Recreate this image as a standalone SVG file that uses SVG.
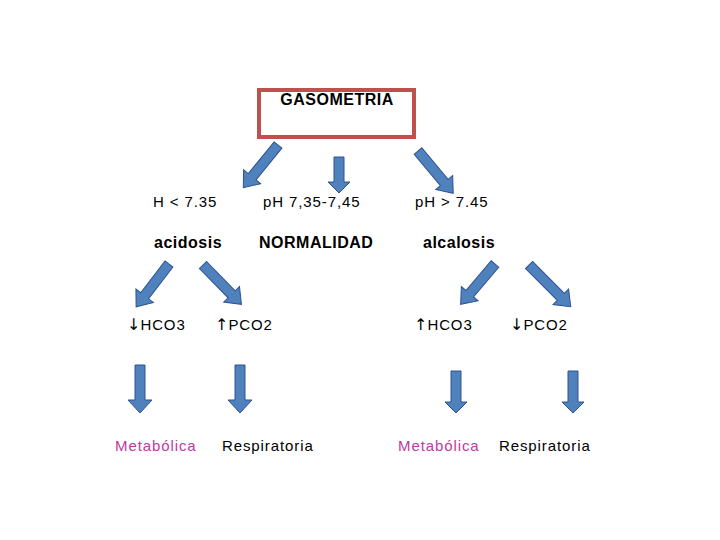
<svg xmlns="http://www.w3.org/2000/svg" width="720" height="540" viewBox="0 0 720 540">
<style>
.ar{fill:#4F81BD;stroke:#2F528F;stroke-width:1}
.t{font-family:"Liberation Sans",Arial,sans-serif;font-size:15px;fill:#000;letter-spacing:0.9px}
.b{font-weight:bold;font-size:16px;letter-spacing:0.5px}
.m{fill:#C0399F}
.g{font-family:"DejaVu Sans",sans-serif;font-size:16px;letter-spacing:0}
</style>
<rect width="720" height="540" fill="#fff"/>
<g id="gasometria">
<rect x="259" y="90" width="155" height="47" fill="none" stroke="#C0504D" stroke-width="4"/>
<text class="t b" x="337" y="105" text-anchor="middle">GASOMETRIA</text>
</g>
<g id="connectors">
<polygon class="ar" transform="translate(278,145) rotate(129.1)" points="0,-5 41,-5 41,-11 55,0 41,11 41,5 0,5"/>
<polygon class="ar" points="334,157 344,157 344,182 350,182 339,193 328,182 334,182"/>
<polygon class="ar" transform="translate(418,151) rotate(50.2)" points="0,-5 41,-5 41,-11 55,0 41,11 41,5 0,5"/>
<polygon class="ar" transform="translate(169,264) rotate(127.5)" points="0,-5 40,-5 40,-11 54,0 40,11 40,5 0,5"/>
<polygon class="ar" transform="translate(203,265) rotate(45.7)" points="0,-5 41,-5 41,-11 55,0 41,11 41,5 0,5"/>
<polygon class="ar" transform="translate(495,264) rotate(130.4)" points="0,-5 39,-5 39,-11 53,0 39,11 39,5 0,5"/>
<polygon class="ar" transform="translate(529,265) rotate(45)" points="0,-5 45,-5 45,-11 59,0 45,11 45,5 0,5"/>
<polygon class="ar" points="135,365 145,365 145,400 152,400 140,413 128,400 135,400"/>
<polygon class="ar" points="235,365 245,365 245,400 252,400 240,413 228,400 235,400"/>
<polygon class="ar" points="451,371 461,371 461,402 467,402 456,413 445,402 451,402"/>
<polygon class="ar" points="568,371 578,371 578,402 584,402 573,413 562,402 568,402"/>
</g>
<g id="ph-acid"><text class="t" x="153" y="207">H &lt; 7.35</text></g>
<g id="ph-normal"><text class="t" x="263" y="207">pH 7,35-7,45</text></g>
<g id="ph-alc"><text class="t" x="415" y="207">pH &gt; 7.45</text></g>
<g id="acidosis"><text class="t b" x="154" y="248">acidosis</text></g>
<g id="normalidad"><text class="t b" x="259" y="248">NORMALIDAD</text></g>
<g id="alcalosis"><text class="t b" x="423" y="248">alcalosis</text></g>
<g id="hco3-down"><text class="t" x="127" y="330"><tspan class="g">↓</tspan>HCO3</text></g>
<g id="pco2-up"><text class="t" x="215" y="330"><tspan class="g">↑</tspan>PCO2</text></g>
<g id="hco3-up"><text class="t" x="414" y="330"><tspan class="g">↑</tspan>HCO3</text></g>
<g id="pco2-down"><text class="t" x="510" y="330"><tspan class="g">↓</tspan>PCO2</text></g>
<g id="metab-1"><text class="t m" x="115" y="451">Metabólica</text></g>
<g id="resp-1"><text class="t" x="222" y="451">Respiratoria</text></g>
<g id="metab-2"><text class="t m" x="398" y="451">Metabólica</text></g>
<g id="resp-2"><text class="t" x="499" y="451">Respiratoria</text></g>
</svg>
